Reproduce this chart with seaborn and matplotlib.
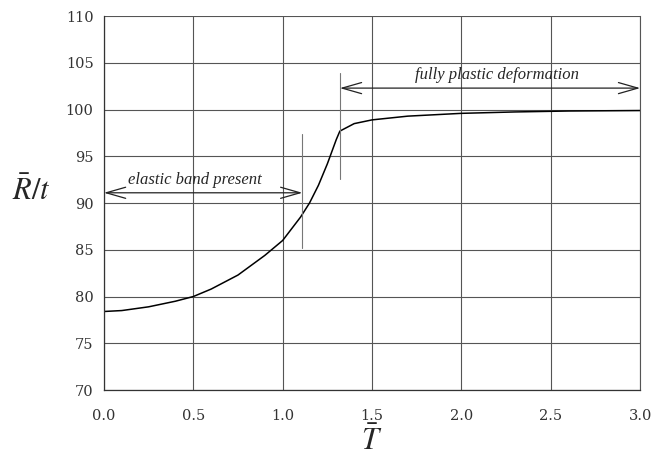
import numpy as np
import pandas as pd
import matplotlib
matplotlib.use("Agg")
import matplotlib.pyplot as plt
import seaborn as sns

# Kurve R/t ueber T
t_bar = [0.0, 0.1, 0.25, 0.4, 0.5, 0.6, 0.75, 0.9, 1.0, 1.1, 1.15, 1.2, 1.25, 1.3, 1.32,
         1.4, 1.5, 1.7, 2.0, 2.3, 2.6, 3.0]
r_over_t = [78.4, 78.5, 78.9, 79.5, 80.0, 80.8, 82.3, 84.4, 86.0, 88.5, 90.0, 91.9, 94.2,
            96.8, 97.7, 98.5, 98.9, 99.3, 99.6, 99.75, 99.85, 99.9]

# Markierungen und Bereiche
elastic_range = (0.0, 1.11)
elastic_y = 91.1
plastic_range = (1.32, 3.0)
plastic_y = 102.3
marker_lines = [(1.11, 85.2, 97.4), (1.32, 92.6, 103.9)]

x_ticks = [0.0, 0.5, 1.0, 1.5, 2.0, 2.5, 3.0]
y_ticks = [70, 75, 80, 85, 90, 95, 100, 105, 110]

sns.set_style("white")
plt.rcParams["font.family"] = ["Liberation Serif", "DejaVu Serif"]
plt.rcParams["mathtext.fontset"] = "stix"

df = pd.DataFrame({"T": t_bar, "R": r_over_t})

fig = plt.figure(figsize=(6.62, 4.61), dpi=100)
ax = fig.add_axes([0.157, 0.154, 0.81, 0.811])

sns.lineplot(data=df, x="T", y="R", ax=ax, color="black", linewidth=1.1)

ax.set_xlim(0, 3.0)
ax.set_ylim(70, 110)
ax.set_xticks(x_ticks)
ax.set_yticks(y_ticks)
ax.set_xticklabels([f"{v:.1f}" for v in x_ticks], family="DejaVu Serif")
ax.set_yticklabels([str(v) for v in y_ticks], family="DejaVu Serif")
ax.tick_params(axis="both", labelsize=10.5, colors="#333333", length=4, width=0.8,
               direction="out")
ax.tick_params(axis="x", pad=10)
ax.grid(True, color="#555555", linewidth=0.8)
ax.set_axisbelow(True)
ax.spines["top"].set_visible(False)
ax.spines["right"].set_color("#555555")
ax.spines["right"].set_linewidth(0.8)
for side in ["left", "bottom"]:
    ax.spines[side].set_color("#333333")
    ax.spines[side].set_linewidth(0.9)

ax.set_xlabel(r"$\bar{T}$", fontsize=22, labelpad=2)
ax.set_ylabel(r"$\bar{R}/t$", fontsize=22, rotation=0, va="center")
ax.yaxis.set_label_coords(-0.135, 0.53)

# senkrechte Markierungslinien
for x, y0, y1 in marker_lines:
    ax.plot([x, x], [y0, y1], color="#777777", linewidth=0.8)

# Pfeile mit Beschriftung
arrow = dict(arrowstyle="<->,head_length=1.4,head_width=0.4", color="#222222", lw=0.9,
             shrinkA=0, shrinkB=0)
ax.annotate("", xy=(elastic_range[0], elastic_y), xytext=(elastic_range[1], elastic_y),
            arrowprops=arrow)
ax.text(0.51, elastic_y + 0.5, "elastic band present", style="italic", fontsize=12,
        ha="center", va="bottom")
ax.annotate("", xy=(plastic_range[0], plastic_y), xytext=(plastic_range[1], plastic_y),
            arrowprops=arrow, annotation_clip=False)
ax.text(2.2, plastic_y + 0.5, "fully plastic deformation", style="italic", fontsize=12,
        ha="center", va="bottom")

fig.savefig("out.png", dpi=100)
